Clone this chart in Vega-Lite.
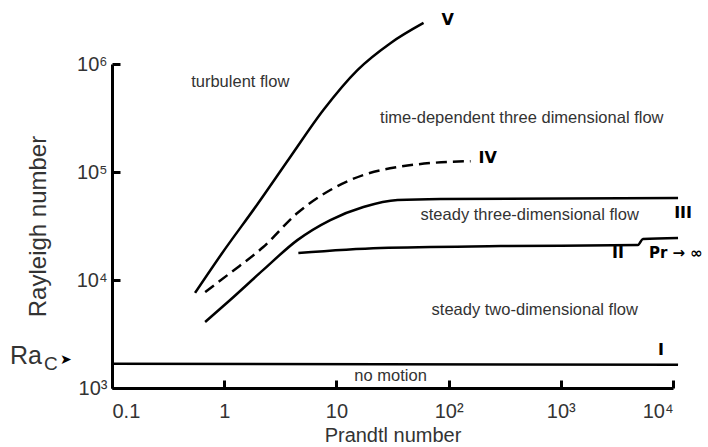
{
  "$schema": "https://vega.github.io/schema/vega-lite/v6.json",
  "autosize": {"type": "none"},
  "width": 561,
  "height": 324,
  "padding": {"left": 112, "top": 64, "right": 35, "bottom": 59},
  "background": "white",
  "config": {
    "view": {"stroke": null},
    "font": "Liberation Sans",
    "axis": {"grid": false, "domainColor": "black", "domainWidth": 3, "tickColor": "black", "tickWidth": 3, "labelColor": "#333", "titleColor": "#333", "labelFont": "Liberation Sans", "titleFont": "Liberation Sans", "titleFontWeight": "normal", "labelFontSize": 20}
  },
  "datasets": {
    "curves": [
      {"series": "V", "ord": 1, "pr": 0.55, "ra": 7600},
      {"series": "V", "ord": 2, "pr": 0.95, "ra": 17500},
      {"series": "V", "ord": 3, "pr": 1.97, "ra": 50000},
      {"series": "V", "ord": 4, "pr": 3.88, "ra": 137700},
      {"series": "V", "ord": 5, "pr": 7.65, "ra": 375000},
      {"series": "V", "ord": 6, "pr": 15.4, "ra": 879000},
      {"series": "V", "ord": 7, "pr": 30.3, "ra": 1560000},
      {"series": "V", "ord": 8, "pr": 59.8, "ra": 2400000},
      {"series": "III", "ord": 1, "pr": 0.676, "ra": 4080},
      {"series": "III", "ord": 2, "pr": 1.13, "ra": 6530},
      {"series": "III", "ord": 3, "pr": 2.23, "ra": 12400},
      {"series": "III", "ord": 4, "pr": 4.49, "ra": 23400},
      {"series": "III", "ord": 5, "pr": 8.83, "ra": 35900},
      {"series": "III", "ord": 6, "pr": 17.4, "ra": 47400},
      {"series": "III", "ord": 7, "pr": 35.1, "ra": 55100},
      {"series": "III", "ord": 8, "pr": 84.9, "ra": 56300},
      {"series": "III", "ord": 9, "pr": 11090, "ra": 57400},
      {"series": "II", "ord": 1, "pr": 4.58, "ra": 17800},
      {"series": "II", "ord": 2, "pr": 24.7, "ra": 19800},
      {"series": "II", "ord": 3, "pr": 291, "ra": 20600},
      {"series": "II", "ord": 4, "pr": 4870, "ra": 21100},
      {"series": "II", "ord": 5, "pr": 5400, "ra": 24000},
      {"series": "II", "ord": 6, "pr": 11090, "ra": 24500},
      {"series": "I", "ord": 1, "pr": 0.1, "ra": 1680},
      {"series": "I", "ord": 2, "pr": 11090, "ra": 1640}
    ],
    "dashed": [
      {"series": "IV", "ord": 1, "pr": 0.676, "ra": 7740},
      {"series": "IV", "ord": 2, "pr": 1.13, "ra": 11600},
      {"series": "IV", "ord": 3, "pr": 2.23, "ra": 20200},
      {"series": "IV", "ord": 4, "pr": 4.49, "ra": 41700},
      {"series": "IV", "ord": 5, "pr": 8.83, "ra": 68100},
      {"series": "IV", "ord": 6, "pr": 17.4, "ra": 93800},
      {"series": "IV", "ord": 7, "pr": 35.1, "ra": 111000},
      {"series": "IV", "ord": 8, "pr": 69.0, "ra": 121000},
      {"series": "IV", "ord": 9, "pr": 157, "ra": 126000}
    ],
    "regions": [
      {"pr": 1.39, "ra": 680000, "text": "turbulent flow"},
      {"pr": 449, "ra": 316000, "text": "time-dependent three dimensional flow"},
      {"pr": 528, "ra": 40000, "text": "steady three-dimensional flow"},
      {"pr": 586, "ra": 5270, "text": "steady two-dimensional flow"},
      {"pr": 30.4, "ra": 1291, "text": "no motion"}
    ],
    "numerals": [
      {"pr": 98, "ra": 2550000, "text": "V"},
      {"pr": 223, "ra": 134900, "text": "IV"},
      {"pr": 12300, "ra": 41700, "text": "III"},
      {"pr": 3230, "ra": 17800, "text": "II"},
      {"pr": 7820, "ra": 2250, "text": "I"}
    ],
    "prinf": [
      {"pr": 6100, "ra": 17800, "text": "Pr → ∞"}
    ],
    "rac": [
      {"pr": 0.1, "ra": 1708, "text": "Ra"}
    ]
  },
  "layer": [
    {
      "data": {"name": "curves"},
      "mark": {"type": "line", "color": "black", "strokeWidth": 2.5, "interpolate": "monotone", "clip": false},
      "encoding": {
        "x": {"field": "pr", "type": "quantitative", "scale": {"type": "log", "domain": [0.1, 10000], "nice": false},
          "axis": {"values": [0.1, 1, 10, 100, 1000, 10000], "labelExpr": "datum.value < 0.5 ? '0.1' : datum.value < 5 ? '1' : datum.value < 50 ? '10' : datum.value < 500 ? '10²' : datum.value < 5000 ? '10³' : '10⁴'", "tickSize": -8, "labelPadding": 21, "title": "Prandtl number", "titleFontSize": 20, "titlePadding": 4}},
        "y": {"field": "ra", "type": "quantitative", "scale": {"type": "log", "domain": [1000, 1000000], "nice": false},
          "axis": {"values": [1000, 10000, 100000, 1000000], "labelExpr": "datum.value < 5000 ? '10³' : datum.value < 50000 ? '10⁴' : datum.value < 500000 ? '10⁵' : '10⁶'", "tickSize": -8, "labelPadding": 13, "title": "Rayleigh number", "titleFontSize": 24, "titlePadding": 26}},
        "detail": {"field": "series"},
        "order": {"field": "ord"}
      }
    },
    {
      "data": {"name": "dashed"},
      "mark": {"type": "line", "color": "black", "strokeWidth": 2.5, "strokeDash": [11, 6], "interpolate": "monotone", "clip": false},
      "encoding": {
        "x": {"field": "pr", "type": "quantitative"},
        "y": {"field": "ra", "type": "quantitative"},
        "order": {"field": "ord"}
      }
    },
    {
      "data": {"name": "regions"},
      "mark": {"type": "text", "fontSize": 16.5, "color": "#333", "baseline": "middle", "align": "center"},
      "encoding": {
        "x": {"field": "pr", "type": "quantitative"},
        "y": {"field": "ra", "type": "quantitative"},
        "text": {"field": "text"}
      }
    },
    {
      "data": {"name": "numerals"},
      "mark": {"type": "text", "fontSize": 16, "fontWeight": "bold", "font": "DejaVu Sans", "color": "black", "baseline": "middle", "align": "center"},
      "encoding": {
        "x": {"field": "pr", "type": "quantitative"},
        "y": {"field": "ra", "type": "quantitative"},
        "text": {"field": "text"}
      }
    },
    {
      "data": {"name": "prinf"},
      "mark": {"type": "text", "fontSize": 15, "fontWeight": "bold", "font": "DejaVu Sans", "color": "black", "baseline": "middle", "align": "left"},
      "encoding": {
        "x": {"field": "pr", "type": "quantitative"},
        "y": {"field": "ra", "type": "quantitative"},
        "text": {"field": "text"}
      }
    },
    {
      "data": {"name": "rac"},
      "mark": {"type": "text", "fontSize": 25, "color": "#333", "baseline": "middle", "align": "left", "dx": -102, "dy": -7},
      "encoding": {
        "x": {"field": "pr", "type": "quantitative"},
        "y": {"field": "ra", "type": "quantitative"},
        "text": {"field": "text"}
      }
    },
    {
      "data": {"name": "rac"},
      "mark": {"type": "text", "fontSize": 19, "color": "#333", "baseline": "middle", "align": "left", "dx": -68, "dy": 1},
      "encoding": {
        "x": {"field": "pr", "type": "quantitative"},
        "y": {"field": "ra", "type": "quantitative"},
        "text": {"value": "C"}
      }
    },
    {
      "data": {"name": "rac"},
      "mark": {"type": "text", "fontSize": 14, "color": "black", "baseline": "middle", "align": "left", "dx": -52, "dy": -3},
      "encoding": {
        "x": {"field": "pr", "type": "quantitative"},
        "y": {"field": "ra", "type": "quantitative"},
        "text": {"value": "➤"}
      }
    }
  ]
}
